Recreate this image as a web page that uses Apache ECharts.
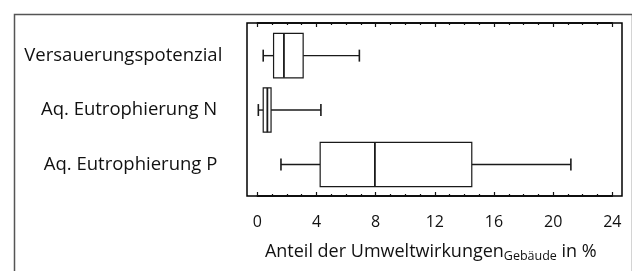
<!DOCTYPE html>
<html>
<head>
<meta charset="utf-8">
<script src="https://cdn.jsdelivr.net/npm/echarts@6/dist/echarts.min.js"></script>
<style>html,body{margin:0;padding:0;background:#fff}#c{width:632px;height:271px}</style>
</head>
<body>
<div id="c"></div>
<script>
var categories = ['Versauerungspotenzial', 'Aq. Eutrophierung N', 'Aq. Eutrophierung P'];
var whiskerLow = [0.4, 0.07, 1.6];
var quartile1 = [1.1, 0.4, 4.25];
var medians = [1.8, 0.68, 7.95];
var quartile3 = [3.1, 0.93, 14.5];
var whiskerHigh = [6.9, 4.3, 21.2];
var xMin = 0, xMax = 24, xStep = 4, minorSplit = 4;
var axisTitle = 'Anteil der Umweltwirkungen';
var axisTitleSub = 'Gebäude';
var axisTitleEnd = ' in %';

var FONT = 'Open Sans';
var rows = categories.map(function (c, i) {
  return [i, whiskerLow[i], quartile1[i], medians[i], quartile3[i], whiskerHigh[i]];
});

function tickAxis(pos, labels) {
  var a = {
    gridIndex: 1, type: 'value', position: pos, min: xMin, max: xMax, interval: xStep,
    axisLine: { show: true, onZero: false, lineStyle: { color: '#000', width: 1.5 } },
    splitLine: { show: false },
    axisTick: { show: true, inside: true, length: 4, lineStyle: { color: '#111', width: 1.2 } },
    minorTick: { show: true, splitNumber: minorSplit, length: 2, lineStyle: { color: '#111', width: 1.2 } },
    minorSplitLine: { show: false },
    axisLabel: labels ? { show: true, margin: 18, fontFamily: FONT, fontSize: 16, color: '#111' } : { show: false }
  };
  return a;
}

var xb = tickAxis('bottom', true);
xb.name = '{a|' + axisTitle + '}{s|' + axisTitleSub + '}{a|' + axisTitleEnd + '}';
xb.nameLocation = 'middle';
xb.nameGap = 45;
xb.nameTextStyle = {
  padding: [0, 8, 0, 0],
  rich: {
    a: { fontFamily: FONT, fontSize: 18, color: '#111', lineHeight: 22, verticalAlign: 'middle' },
    s: { fontFamily: FONT, fontSize: 12.5, color: '#111', lineHeight: 14, verticalAlign: 'bottom' }
  }
};

var chart = echarts.init(document.getElementById('c'), null, { renderer: 'canvas' });
chart.setOption({
  animation: false,
  backgroundColor: '#fff',
  graphic: [{
    type: 'rect', left: 12, top: 12, silent: true,
    shape: { width: 618, height: 300 },
    style: { fill: 'none', stroke: '#555', lineWidth: 1.5 }
  }],
  grid: [
    { left: 247, right: 10, top: 23, bottom: 75, show: true,
      borderColor: '#000', borderWidth: 1.5, backgroundColor: 'transparent' },
    { left: 257.3, right: 19.7, top: 23, bottom: 75 }
  ],
  xAxis: [
    { gridIndex: 0, type: 'value', show: false, min: 0, max: 1 },
    xb,
    tickAxis('top', false)
  ],
  yAxis: [
    { gridIndex: 0, type: 'value', show: false, min: 0, max: 1 },
    {
      gridIndex: 1, type: 'value', inverse: true, min: -0.6, max: 2.58,
      axisLine: { show: false, onZero: false }, axisTick: { show: false }, splitLine: { show: false },
      axisLabel: { show: true, customValues: [0, 1, 2], margin: 35,
        formatter: function (v) {
          var i = Math.round(v);
          return i === 0 ? '{v|' + categories[i] + '}' : '{o|' + categories[i] + '}';
        },
        rich: {
          v: { fontFamily: FONT, fontSize: 18.5, color: '#111' },
          o: { fontFamily: FONT, fontSize: 18.5, color: '#111', padding: [0, 5, 0, 0] }
        },
        fontFamily: FONT, fontSize: 18.5, color: '#111' }
    }
  ],
  series: [{
    type: 'custom',
    xAxisIndex: 1, yAxisIndex: 1,
    encode: { x: [1, 2, 3, 4, 5], y: 0 },
    data: rows,
    renderItem: function (params, api) {
      var idx = api.value(0);
      var pLow = api.coord([api.value(1), idx]);
      var pQ1 = api.coord([api.value(2), idx]);
      var pMed = api.coord([api.value(3), idx]);
      var pQ3 = api.coord([api.value(4), idx]);
      var pHigh = api.coord([api.value(5), idx]);
      var y = pMed[1];
      var boxH = api.size([0, 0.815])[1];
      var capH = api.size([0, 0.22])[1];
      var col = '#1a1a1a';
      return {
        type: 'group',
        children: [
          { type: 'line', shape: { x1: pLow[0], y1: y, x2: pQ1[0], y2: y }, style: { stroke: col, lineWidth: 1.4 } },
          { type: 'line', shape: { x1: pQ3[0], y1: y, x2: pHigh[0], y2: y }, style: { stroke: col, lineWidth: 1.4 } },
          { type: 'line', shape: { x1: pLow[0], y1: y - capH / 2, x2: pLow[0], y2: y + capH / 2 }, style: { stroke: col, lineWidth: 1.6 } },
          { type: 'line', shape: { x1: pHigh[0], y1: y - capH / 2, x2: pHigh[0], y2: y + capH / 2 }, style: { stroke: col, lineWidth: 1.6 } },
          { type: 'rect', shape: { x: pQ1[0], y: y - boxH / 2, width: pQ3[0] - pQ1[0], height: boxH }, style: { fill: '#fff', stroke: col, lineWidth: 1.2 } },
          { type: 'line', shape: { x1: pMed[0], y1: y - boxH / 2, x2: pMed[0], y2: y + boxH / 2 }, style: { stroke: col, lineWidth: 1.8 } }
        ]
      };
    }
  }]
});
</script>
</body>
</html>
